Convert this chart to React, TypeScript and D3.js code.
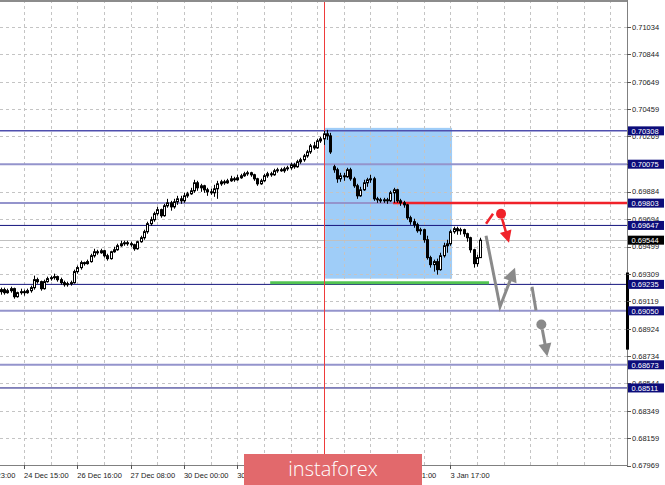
import React from "react";
import * as d3 from "d3";

const W = 665;
const H = 485;

// H1 candles (5-digit prices)
const openP = [
  0.69184,0.69198,0.69177,0.69191,0.69205,0.69149,0.69177,0.69184,0.69177,0.69191,
  0.69212,0.69268,0.69254,0.69205,0.69254,0.69275,0.69282,0.69289,0.69268,0.69247,
  0.69233,0.69240,0.69247,0.69324,0.69352,0.69387,0.69380,0.69394,0.69435,0.69463,
  0.69456,0.69470,0.69435,0.69415,0.69463,0.69477,0.69505,0.69519,0.69526,0.69519,
  0.69512,0.69484,0.69533,0.69561,0.69603,0.69659,0.69687,0.69729,0.69757,0.69715,
  0.69784,0.69805,0.69777,0.69812,0.69833,0.69819,0.69854,0.69868,0.69889,0.69945,
  0.69910,0.69924,0.69896,0.69882,0.69875,0.69903,0.69938,0.69952,0.69945,0.69959,
  0.69973,0.69966,0.69980,0.69994,0.70008,0.70015,0.70001,0.69973,0.69938,0.69959,
  0.69994,0.70008,0.70001,0.70029,0.70036,0.70029,0.70043,0.70050,0.70071,0.70057,
  0.70092,0.70106,0.70133,0.70161,0.70203,0.70189,0.70238,0.70252,0.70287,0.70273,
  0.70057,0.70036,0.69973,0.69994,0.69987,0.70036,0.69973,0.69924,0.69854,0.69896,
  0.69945,0.69966,0.69973,0.69833,0.69826,0.69819,0.69826,0.69819,0.69875,0.69896,
  0.69819,0.69805,0.69791,0.69701,0.69673,0.69652,0.69610,0.69617,0.69547,0.69422,
  0.69373,0.69394,0.69338,0.69435,0.69505,0.69519,0.69603,0.69624,0.69610,0.69617,
  0.69589,0.69561,0.69477,0.69380,0.69422,
];
const highP = [
  0.69212,0.69212,0.69205,0.69219,0.69212,0.69184,0.69205,0.69198,0.69205,0.69226,
  0.69296,0.69282,0.69261,0.69268,0.69289,0.69296,0.69310,0.69296,0.69282,0.69261,
  0.69254,0.69261,0.69338,0.69366,0.69401,0.69394,0.69408,0.69449,0.69484,0.69477,
  0.69484,0.69477,0.69449,0.69470,0.69498,0.69519,0.69540,0.69540,0.69540,0.69533,
  0.69519,0.69540,0.69575,0.69617,0.69673,0.69708,0.69743,0.69777,0.69764,0.69798,
  0.69833,0.69819,0.69833,0.69854,0.69854,0.69875,0.69882,0.69910,0.69966,0.69959,
  0.69938,0.69931,0.69910,0.69903,0.69931,0.69959,0.69966,0.69966,0.69973,0.69994,
  0.69987,0.70001,0.70008,0.70022,0.70029,0.70022,0.70008,0.69980,0.69973,0.70008,
  0.70022,0.70022,0.70043,0.70050,0.70050,0.70057,0.70064,0.70085,0.70085,0.70106,
  0.70120,0.70147,0.70175,0.70217,0.70231,0.70252,0.70266,0.70308,0.70315,0.70294,
  0.70071,0.70050,0.70015,0.70015,0.70050,0.70050,0.69987,0.69938,0.69917,0.69966,
  0.69980,0.70001,0.69987,0.69847,0.69840,0.69840,0.69840,0.69889,0.69910,0.69903,
  0.69833,0.69819,0.69798,0.69715,0.69694,0.69666,0.69631,0.69624,0.69575,0.69435,
  0.69408,0.69415,0.69456,0.69526,0.69547,0.69617,0.69638,0.69638,0.69631,0.69624,
  0.69596,0.69568,0.69484,0.69442,0.69561,
];
const lowP = [
  0.69163,0.69163,0.69170,0.69177,0.69135,0.69142,0.69163,0.69156,0.69170,0.69177,
  0.69198,0.69240,0.69191,0.69198,0.69247,0.69261,0.69268,0.69254,0.69233,0.69219,
  0.69219,0.69226,0.69240,0.69310,0.69338,0.69366,0.69373,0.69387,0.69422,0.69442,
  0.69449,0.69422,0.69401,0.69408,0.69456,0.69470,0.69498,0.69505,0.69505,0.69498,
  0.69470,0.69477,0.69526,0.69547,0.69589,0.69645,0.69673,0.69715,0.69701,0.69708,
  0.69771,0.69750,0.69764,0.69791,0.69798,0.69805,0.69840,0.69861,0.69875,0.69889,
  0.69882,0.69875,0.69854,0.69861,0.69847,0.69833,0.69924,0.69931,0.69938,0.69952,
  0.69952,0.69959,0.69973,0.69987,0.69994,0.69987,0.69959,0.69924,0.69931,0.69952,
  0.69980,0.69987,0.69994,0.70015,0.70022,0.70015,0.70029,0.70036,0.70043,0.70050,
  0.70078,0.70092,0.70120,0.70147,0.70175,0.70182,0.70224,0.70210,0.70245,0.70147,
  0.70015,0.69945,0.69952,0.69959,0.69980,0.69959,0.69910,0.69833,0.69847,0.69889,
  0.69917,0.69945,0.69819,0.69805,0.69805,0.69805,0.69798,0.69812,0.69805,0.69805,
  0.69784,0.69771,0.69687,0.69652,0.69631,0.69596,0.69582,0.69526,0.69408,0.69352,
  0.69324,0.69303,0.69331,0.69422,0.69456,0.69505,0.69589,0.69582,0.69582,0.69568,
  0.69533,0.69456,0.69352,0.69359,0.69422,
];
const closeP = [
  0.69198,0.69177,0.69191,0.69205,0.69149,0.69177,0.69184,0.69177,0.69191,0.69212,
  0.69268,0.69254,0.69205,0.69254,0.69275,0.69282,0.69289,0.69268,0.69247,0.69233,
  0.69240,0.69247,0.69324,0.69352,0.69387,0.69380,0.69394,0.69435,0.69463,0.69456,
  0.69470,0.69435,0.69415,0.69463,0.69477,0.69505,0.69519,0.69526,0.69519,0.69512,
  0.69484,0.69533,0.69561,0.69603,0.69659,0.69687,0.69729,0.69757,0.69715,0.69784,
  0.69805,0.69777,0.69812,0.69833,0.69819,0.69854,0.69868,0.69889,0.69945,0.69910,
  0.69924,0.69896,0.69882,0.69875,0.69903,0.69938,0.69952,0.69945,0.69959,0.69973,
  0.69966,0.69980,0.69994,0.70008,0.70015,0.70001,0.69973,0.69938,0.69959,0.69994,
  0.70008,0.70001,0.70029,0.70036,0.70029,0.70043,0.70050,0.70071,0.70057,0.70092,
  0.70106,0.70133,0.70161,0.70203,0.70189,0.70238,0.70252,0.70287,0.70273,0.70161,
  0.70036,0.69973,0.69994,0.69987,0.70036,0.69973,0.69924,0.69854,0.69896,0.69945,
  0.69966,0.69973,0.69833,0.69826,0.69819,0.69826,0.69819,0.69875,0.69896,0.69819,
  0.69805,0.69791,0.69701,0.69673,0.69652,0.69610,0.69617,0.69547,0.69422,0.69373,
  0.69394,0.69338,0.69435,0.69505,0.69519,0.69603,0.69624,0.69610,0.69617,0.69589,
  0.69561,0.69477,0.69380,0.69422,0.69544,
];

// axis
const priceTicks = [
  0.71034, 0.70844, 0.70649, 0.70459, 0.70269, 0.70079, 0.69884, 0.69694, 0.69499,
  0.69309, 0.69119, 0.68924, 0.68734, 0.68544, 0.68349, 0.68159, 0.67969,
];
// labels that the logo hides completely are left out
const timeLabels = [
  "23 Dec 23:00", "24 Dec 15:00", "26 Dec 16:00", "27 Dec 08:00", "30 Dec 00:00",
  "30 Dec 16:00", "3 Jan 01:00", "3 Jan 17:00",
];
const timeLabelBars = [-9, 7, 23, 39, 55, 71, 119, 135];

// horizontal levels
const levelPrices = [0.70308, 0.70075, 0.69803, 0.69647, 0.69235, 0.6905, 0.68673, 0.68511];
const levelKinds = ["mid", "light", "light", "dark", "dark", "light", "light", "dark"];
const currentPrice = 0.69544;

// drawn objects (bar index, price)
const boxBars = [97.4, 135.5];
const boxPrices = [0.70329, 0.69275];
const redVLineBar = 97;
const greenBars = [80.9, 146.6];
const greenPrice = 0.69247;
const redHStartBar = 117.8;
const redHPrice = 0.69803;
const redTickBars = [145.7, 147.8];
const redTickPrices = [0.69659, 0.69729];
const redDot = [150.2, 0.69729];
const redArrowBars = [150.5, 152.6];
const redArrowPrices = [0.69694, 0.69526];
const grayPathBars = [145.7, 149.9, 154.4];
const grayPathPrices = [0.69575, 0.69079, 0.69352];
const grayTickBars = [159.5, 160.7];
const grayTickPrices = [0.69219, 0.69052];
const grayDot = [162.3, 0.68954];
const grayArrowBars = [162.6, 164.1];
const grayArrowPrices = [0.68919, 0.68731];
const sideBarPrices = [0.69318, 0.68779];

const PR = 627; // plot right
const PB = 465; // plot bottom

const x = d3.scaleLinear().domain([7, 135]).range([24, 450.4]);
const y = d3.scaleLinear().domain([0.67969, 0.71034]).range([465.5, 27]);

const FONT = "'Liberation Sans', Arial, sans-serif";

function head(x1: number, y1: number, x2: number, y2: number, len: number, half: number) {
  const dx = x2 - x1, dy = y2 - y1;
  const d = Math.hypot(dx, dy);
  const ux = dx / d, uy = dy / d;
  const bx = x2 - ux * len, by = y2 - uy * len;
  const px = -uy * half, py = ux * half;
  return {
    pts: `${x2},${y2} ${bx + px},${by + py} ${bx - px},${by - py}`,
    bx: x2 - ux * (len - 2),
    by: y2 - uy * (len - 2),
  };
}

export default function App() {
  const cr = (v: number) => Math.round(v) + 0.5;
  const levelColor: Record<string, string> = { dark: "#14147e", mid: "#4f4fae", light: "#9494cc" };
  const levelWidth: Record<string, number> = { dark: 1, mid: 1.5, light: 2 };

  const redA = head(x(redArrowBars[0]), y(redArrowPrices[0]), x(redArrowBars[1]), y(redArrowPrices[1]), 12, 6);
  const gp = grayPathBars.map((b, i) => [x(b), y(grayPathPrices[i])]);
  const grayA = head(gp[1][0], gp[1][1], gp[2][0], gp[2][1], 14, 7);
  const grayA2 = head(x(grayArrowBars[0]), y(grayArrowPrices[0]), x(grayArrowBars[1]), y(grayArrowPrices[1]), 13, 6.5);

  return (
    <svg width={W} height={H} style={{ position: "fixed", left: 0, top: 0, background: "#fff" }}>
      <defs>
        <clipPath id="plot">
          <rect x={0} y={0} width={PR} height={PB} />
        </clipPath>
      </defs>
      <rect x={0} y={0} width={W} height={H} fill="#fff" />
      <g clipPath="url(#plot)">
        {/* blue zone */}
        <rect
          x={x(boxBars[0])}
          y={y(boxPrices[0])}
          width={x(boxBars[1]) - x(boxBars[0])}
          height={y(boxPrices[1]) - y(boxPrices[0])}
          fill="#9fcdf8"
        />
        {/* grid */}
        {priceTicks.map((p, i) => (
          <line key={"gh" + i} x1={0} x2={PR} y1={cr(y(p))} y2={cr(y(p))} stroke="#c4c4c4" strokeDasharray="3,3" />
        ))}
        {d3.range(-1, 190, 8).map((b) => (
          <line key={"gv" + b} x1={cr(x(b))} x2={cr(x(b))} y1={0} y2={PB} stroke="#c4c4c4" strokeDasharray="3,3" />
        ))}
        {/* levels */}
        {levelPrices.map((p, i) => (
          <line
            key={"lv" + i}
            x1={0}
            x2={PR}
            y1={y(p)}
            y2={y(p)}
            stroke={levelColor[levelKinds[i]]}
            strokeWidth={levelWidth[levelKinds[i]]}
          />
        ))}
        <line x1={0} x2={PR} y1={cr(y(currentPrice))} y2={cr(y(currentPrice))} stroke="#c0c0c0" />
        {/* green line */}
        <line x1={x(greenBars[0])} x2={x(greenBars[1])} y1={y(greenPrice)} y2={y(greenPrice)} stroke="#52c452" strokeWidth={3} />
        {/* red level */}
        <line x1={x(redHStartBar)} x2={PR} y1={y(redHPrice)} y2={y(redHPrice)} stroke="#f0222a" strokeWidth={2.5} />
        {/* red vertical */}
        <line x1={cr(x(redVLineBar))} x2={cr(x(redVLineBar))} y1={0} y2={PB} stroke="#ee3b3b" />
        {/* candles */}
        {closeP.map((c, i) => {
          const o = openP[i];
          const xc = Math.round(x(i));
          const yT = y(Math.max(o, c));
          const yB = y(Math.min(o, c));
          const bull = c >= o;
          return (
            <g key={"c" + i}>
              <line x1={xc + 0.5} x2={xc + 0.5} y1={y(highP[i])} y2={y(lowP[i])} stroke="#000" />
              <rect
                x={xc - 0.5}
                y={yT}
                width={2}
                height={Math.max(1, yB - yT)}
                fill={bull ? "#fff" : "#000"}
                stroke="#000"
                strokeWidth={1}
              />
            </g>
          );
        })}
        {/* red scenario */}
        <line
          x1={x(redTickBars[0])}
          y1={y(redTickPrices[0])}
          x2={x(redTickBars[1])}
          y2={y(redTickPrices[1])}
          stroke="#f0222a"
          strokeWidth={2.5}
        />
        <line x1={x(redArrowBars[0])} y1={y(redArrowPrices[0])} x2={redA.bx} y2={redA.by} stroke="#f0222a" strokeWidth={2.5} />
        <polygon points={redA.pts} fill="#f0222a" />
        <circle cx={x(redDot[0])} cy={y(redDot[1])} r={5} fill="#f0222a" />
        {/* gray scenario */}
        <polyline
          points={`${gp[0][0]},${gp[0][1]} ${gp[1][0]},${gp[1][1]} ${grayA.bx},${grayA.by}`}
          fill="none"
          stroke="#8a8a8a"
          strokeWidth={3}
          strokeLinejoin="miter"
        />
        <polygon points={grayA.pts} fill="#8a8a8a" />
        <line
          x1={x(grayTickBars[0])}
          y1={y(grayTickPrices[0])}
          x2={x(grayTickBars[1])}
          y2={y(grayTickPrices[1])}
          stroke="#8a8a8a"
          strokeWidth={3}
        />
        <circle cx={x(grayDot[0])} cy={y(grayDot[1])} r={5} fill="#8a8a8a" />
        <line x1={x(grayArrowBars[0])} y1={y(grayArrowPrices[0])} x2={grayA2.bx} y2={grayA2.by} stroke="#8a8a8a" strokeWidth={3} />
        <polygon points={grayA2.pts} fill="#8a8a8a" />
      </g>

      {/* frame */}
      <line x1={0} x2={PR} y1={1} y2={1} stroke="#8c8c8c" strokeWidth={2} />
      <line x1={PR + 0.5} x2={PR + 0.5} y1={0} y2={PB + 1} stroke="#808080" />
      <line x1={0} x2={PR + 1} y1={PB + 0.5} y2={PB + 0.5} stroke="#808080" />
      <rect x={PR - 1} y={y(sideBarPrices[0])} width={3} height={y(sideBarPrices[1]) - y(sideBarPrices[0])} fill="#000" />

      {/* right axis */}
      {priceTicks.map((p, i) => (
        <g key={"pt" + i}>
          <line x1={PR} x2={PR + 4} y1={cr(y(p))} y2={cr(y(p))} stroke="#555" />
          <text x={632} y={y(p) + 2.8} fontSize={7.5} fontFamily={FONT} fill="#222">
            {p.toFixed(5)}
          </text>
        </g>
      ))}
      {levelPrices.map((p, i) => (
        <g key={"lb" + i}>
          <rect x={628} y={y(p) - 4.5} width={36} height={9} fill="#0c0c7a" />
          <text x={631.5} y={y(p) + 2.8} fontSize={7.5} fontFamily={FONT} fill="#fff">
            {p.toFixed(5)}
          </text>
        </g>
      ))}
      <rect x={628} y={y(currentPrice) - 4.5} width={36} height={9} fill="#000" />
      <text x={631.5} y={y(currentPrice) + 2.8} fontSize={7.5} fontFamily={FONT} fill="#fff">
        {currentPrice.toFixed(5)}
      </text>

      {/* bottom axis */}
      {timeLabelBars.map((b, i) => (
        <g key={"tl" + i}>
          <line x1={cr(x(b))} x2={cr(x(b))} y1={PB} y2={PB + 4} stroke="#555" />
          <text x={x(b)} y={478} fontSize={7.5} fontFamily={FONT} fill="#222">
            {timeLabels[i]}
          </text>
        </g>
      ))}

      {/* logo */}
      <rect x={244} y={454} width={178} height={32} fill="#e2696c" />
      <text
        x={333}
        y={476}
        textAnchor="middle"
        fontSize={20}
        fontFamily="'Open Sans', 'Noto Sans', sans-serif"
        fontWeight={300}
        fill="#fff"
      >
        instaforex
      </text>
    </svg>
  );
}
